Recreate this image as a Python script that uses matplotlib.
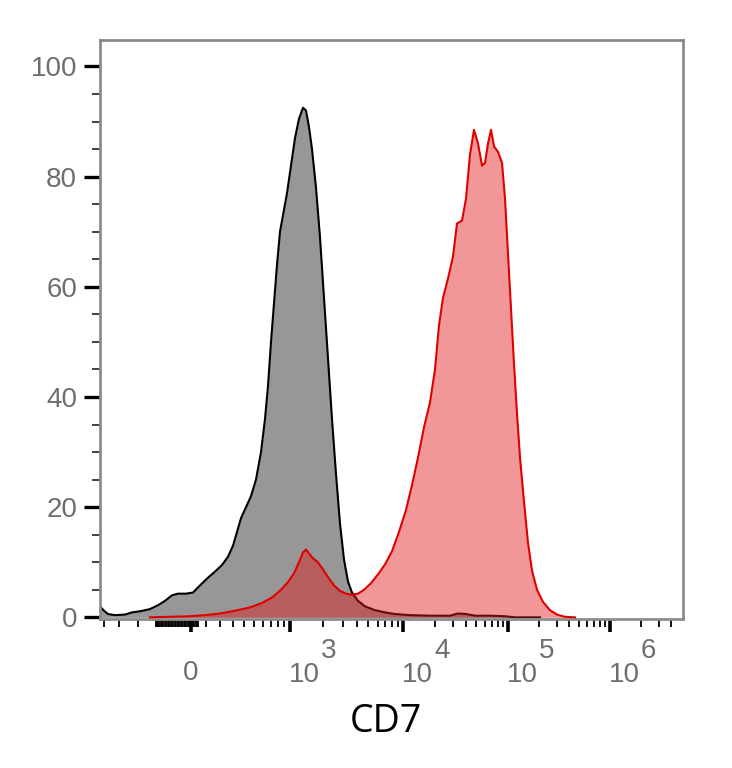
import numpy as np
import matplotlib
matplotlib.use("Agg")
from matplotlib import pyplot as plt
from matplotlib import transforms

# histogram data: x in display channels (0 = zero fluorescence), y in % of max
gray_x = [-91, -87, -83, -76, -66, -59, -51, -41, -33, -26, -19, -13, -5, 2, 9, 17, 24, 31,
          37, 42, 46, 50, 55, 60, 65, 70, 74, 77, 80, 83, 86, 89, 92, 96, 100, 104, 108,
          112, 115, 118, 121, 125, 129, 133, 137, 141, 145, 149, 153, 157, 161, 167, 174,
          184, 194, 204, 219, 239, 259, 267, 275, 284, 299, 314, 324, 349]
gray_y = [2.0, 1.2, 0.6, 0.4, 0.5, 0.9, 1.1, 1.5, 2.2, 3.0, 4.0, 4.3, 4.3, 4.5, 5.8, 7.2,
          8.3, 9.5, 11.0, 13.0, 15.5, 18.0, 20.0, 22.0, 25.0, 30.0, 36.0, 42.0, 50.0, 57.0,
          64.0, 70.0, 73.0, 77.0, 82.0, 87.0, 90.5, 92.5, 92.0, 89.0, 85.0, 78.0, 69.0, 58.0,
          47.0, 36.0, 26.0, 17.0, 10.5, 6.5, 4.5, 3.0, 2.0, 1.3, 0.9, 0.6, 0.4, 0.3, 0.3,
          0.7, 0.6, 0.3, 0.3, 0.2, 0.0, 0.0]

red_x = [-41, -21, -1, 14, 29, 44, 59, 71, 81, 90, 97, 103, 108, 112, 115, 118, 122, 127,
         132, 137, 143, 149, 155, 161, 167, 173, 180, 187, 194, 201, 208, 215, 221, 227,
         233, 239, 244, 248, 252, 257, 262, 266, 271, 275, 279, 283, 287, 291, 294, 297,
         300, 303, 307, 311, 314, 317, 320, 323, 326, 329, 333, 337, 341, 346, 352, 359,
         366, 374, 384]
red_y = [0.0, 0.1, 0.2, 0.4, 0.7, 1.2, 1.8, 2.6, 3.6, 5.0, 6.4, 8.0, 10.0, 11.8, 12.3,
         11.6, 10.7, 10.0, 8.7, 7.3, 5.8, 4.8, 4.3, 4.1, 4.3, 5.0, 6.2, 7.8, 9.6, 12.0,
         15.5, 19.5, 24.0, 29.0, 34.5, 39.0, 45.0, 53.0, 58.0, 61.5, 65.5, 71.5, 72.0,
         76.0, 84.0, 88.5, 86.0, 82.0, 82.5, 86.0, 88.5, 85.5, 84.5, 82.5, 76.0, 66.0,
         56.0, 46.0, 37.0, 29.0, 21.0, 13.5, 8.5, 5.0, 2.8, 1.3, 0.5, 0.1, 0.0]

major_vals = [0, 1e3, 1e4, 1e5, 1e6]
major_exp = ["", "3", "4", "5", "6"]
x_label = "CD7"

# biexponential-like display: asinh, then piecewise per decade
W = 400.0
dec_chan = [0, 99, 212, 317, 419]


def to_chan(v):
    g = np.arcsinh(np.asarray(v, dtype=float) / W)
    gk = np.arcsinh(np.array(major_vals) / W)
    d = np.interp(g, gk, dec_chan)
    s0 = (dec_chan[1] - dec_chan[0]) / (gk[1] - gk[0])
    s1 = (dec_chan[-1] - dec_chan[-2]) / (gk[-1] - gk[-2])
    d = np.where(g < gk[0], dec_chan[0] + (g - gk[0]) * s0, d)
    d = np.where(g > gk[-1], dec_chan[-1] + (g - gk[-1]) * s1, d)
    return d


minor_vals = [-800, -600, -400] + [v for v in range(-250, 60, 10) if v != 0]
minor_vals += [k * 100 for k in range(1, 10)]
for n in range(3, 7):
    minor_vals += [k * 10 ** n for k in range(2, 10)]
minor_vals = [v for v in minor_vals if v < 5e6]

fig = plt.figure(figsize=(7.32, 7.68), dpi=100)
ax = fig.add_axes([100 / 732, 1 - 619 / 768, 583 / 732, 579 / 768])

ax.fill_between(gray_x, 0, gray_y, color="#979797", lw=0, zorder=1)
ax.plot(gray_x, gray_y, color="black", lw=1.5, zorder=2)
ax.fill_between(red_x, 0, red_y, color="#e01818", alpha=0.45, lw=0, zorder=3)
ax.plot(red_x, red_y, color="#e00000", lw=1.5, zorder=4)

ax.set_xlim(-91, 492)
ax.set_ylim(-0.3, 104.8)

for s in ax.spines.values():
    s.set_color("#8c8c8c")
    s.set_linewidth(2)

ax.set_yticks(range(0, 101, 20))
ax.set_yticks(range(0, 101, 5), minor=True)
ax.tick_params(axis="y", which="major", length=11.5, width=2.4, color="black",
               labelsize=20, labelcolor="#6e6e6e", pad=5)
ax.tick_params(axis="y", which="minor", length=5.5, width=1.3, color="#333333")
for lab in ax.get_yticklabels():
    lab.set_fontfamily("Liberation Sans")

ax.set_xticks(to_chan(major_vals))
ax.set_xticks(to_chan(minor_vals), minor=True)
ax.set_xticklabels([])
ax.tick_params(axis="x", which="major", length=9, width=2.6, color="black")
ax.tick_params(axis="x", which="minor", length=5.5, width=1.3, color="black")

base = transforms.blended_transform_factory(ax.transData, ax.transAxes)
for v, e in zip(major_vals, major_exp):
    xc = float(to_chan(v))
    if e == "":
        ax.text(xc, -0.093, "0", transform=base, ha="center", va="center",
                fontsize=20, color="#6e6e6e", family="Liberation Sans")
        continue
    t1 = base + transforms.ScaledTranslation(-0.01, 0, fig.dpi_scale_trans)
    ax.text(xc, -0.097, "10", transform=t1, ha="left", va="center",
            fontsize=20, color="#6e6e6e", family="Liberation Sans")
    t2 = base + transforms.ScaledTranslation(0.31, 0, fig.dpi_scale_trans)
    ax.text(xc, -0.055, e, transform=t2, ha="left", va="center",
            fontsize=20, color="#6e6e6e", family="Liberation Sans")

fig.text(386 / 732, 1 - 722 / 768, x_label, ha="center", va="center",
         fontsize=27, color="black", family="Open Sans")

fig.savefig("out.png", dpi=100)
